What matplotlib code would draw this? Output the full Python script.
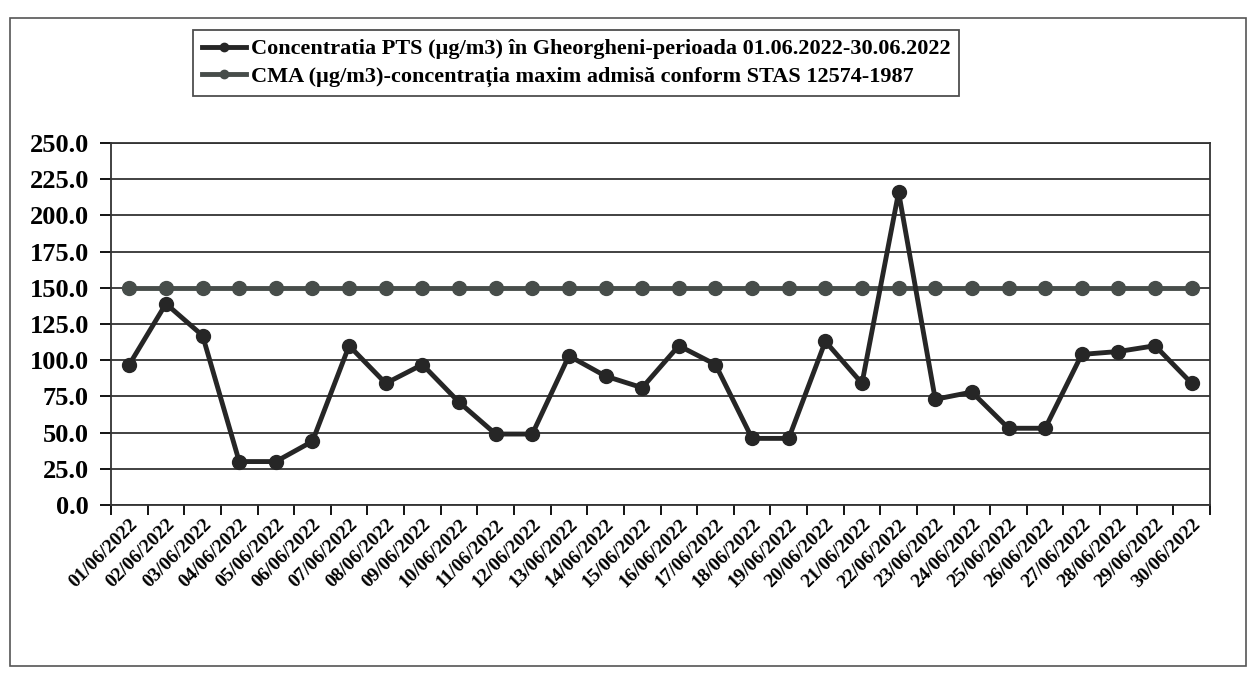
import matplotlib
matplotlib.use("Agg")
import matplotlib.pyplot as plt
from matplotlib.patches import Rectangle
import numpy as np

# categories and values
dates = [f"{d:02d}/06/2022" for d in range(1, 31)]
pts = [97, 139, 117, 30, 30, 44, 110, 84, 97, 71,
       49, 49, 103, 89, 81, 110, 97, 46, 46, 113,
       84, 216, 73, 78, 53, 53, 104, 106, 110, 84]
cma = [150] * 30
yticks = [0, 25, 50, 75, 100, 125, 150, 175, 200, 225, 250]

label_pts = "Concentratia PTS (µg/m3) în Gheorgheni-perioada 01.06.2022-30.06.2022"
label_cma = "CMA (µg/m3)-concentrația maxim admisă conform STAS 12574-1987"

plt.rcParams['font.family'] = ['Liberation Serif', 'DejaVu Serif']
plt.rcParams['font.weight'] = 'bold'

fig = plt.figure(figsize=(12.6, 6.74), dpi=100)
ax = fig.add_axes([111 / 1260, 1 - 505 / 674, (1210 - 111) / 1260, (505 - 143) / 674])

# outer chart border
fig.add_artist(Rectangle((10 / 1260, 1 - 666 / 674), 1236 / 1260, 648 / 674,
                         transform=fig.transFigure, fill=False,
                         edgecolor="#555555", linewidth=1.2))

x = np.arange(len(dates))
ax.set_axisbelow(True)
ax.yaxis.grid(True, color="#333333", linewidth=1.3)
ax.plot(x, cma, color="#474d4a", linewidth=3.5, marker="o", markersize=10,
        label=label_cma, zorder=3)
ax.plot(x, pts, color="#262626", linewidth=3.5, marker="o", markersize=10,
        label=label_pts, zorder=4)

ax.set_xlim(-0.5, len(dates) - 0.5)
ax.set_ylim(0, 250)
ax.set_yticks(yticks)
ax.set_yticklabels([f"{v:.1f}" for v in yticks], fontsize=19, fontweight="bold")
ax.set_xticks(np.arange(-0.5, len(dates) + 0.5, 1))
ax.set_xticklabels([])
ax.set_xticks(x, minor=True)
ax.set_xticklabels(dates, minor=True, rotation=45, ha="right",
                   rotation_mode="anchor", fontsize=14, fontweight="bold")
ax.tick_params(axis="x", which="minor", length=0, pad=8)
ax.tick_params(axis="x", which="major", length=7, width=1.3, direction="out")
ax.tick_params(axis="y", length=8, width=1.3, direction="out", pad=8)
for s in ax.spines.values():
    s.set_color("#333333")
    s.set_linewidth(1.3)

handles, labels = ax.get_legend_handles_labels()
leg = fig.legend(handles[::-1], labels[::-1], loc="upper left",
                 bbox_to_anchor=(193 / 1260, 1 - 30 / 674), borderaxespad=0,
                 prop={"size": 16, "weight": "bold"}, frameon=True,
                 fancybox=False, edgecolor="#222222", handlelength=2.0,
                 markerscale=0.6, borderpad=0.4, labelspacing=0.3,
                 handletextpad=0.2)
leg.get_frame().set_linewidth(1.3)

fig.savefig("out.png", dpi=100)
